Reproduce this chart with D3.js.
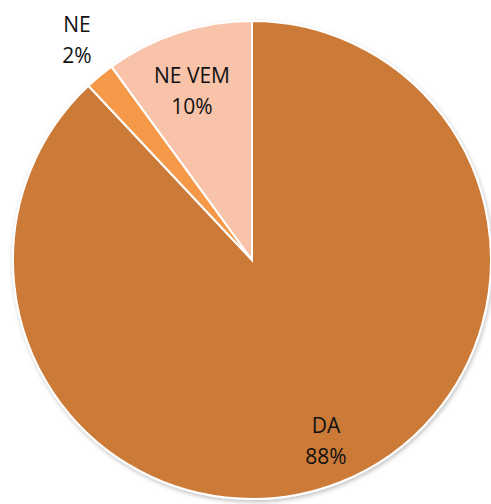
<!DOCTYPE html>
<html>
<head>
<meta charset="utf-8">
<script src="https://cdn.jsdelivr.net/npm/d3@7"></script>
<style>
  body { margin: 0; background: #fff; }
  svg { display: block; }
  text { font-family: "Open Sans", "Noto Sans", sans-serif; font-size: 21px; fill: #111; }
</style>
</head>
<body>
<div id="chart"></div>
<script>
const categories = ["DA", "NE", "NE VEM"];
const values = [88, 2, 10];
const colors = ["#CC7A38", "#F5994A", "#F8C3A9"];

const width = 491, height = 504;
const cx = 252, cy = 260, r = 239;

const svg = d3.select("#chart").append("svg")
  .attr("width", width)
  .attr("height", height);

const defs = svg.append("defs");
const f = defs.append("filter").attr("id", "shadow")
  .attr("x", "-10%").attr("y", "-10%").attr("width", "120%").attr("height", "120%");
f.append("feDropShadow").attr("dx", 1).attr("dy", 2).attr("stdDeviation", 2)
  .attr("flood-color", "#000").attr("flood-opacity", 0.25);

const g = svg.append("g").attr("transform", `translate(${cx},${cy})`);

const pie = d3.pie().sort(null).value(d => d.value);
const arc = d3.arc().innerRadius(0).outerRadius(r);

const data = categories.map((c, i) => ({ name: c, value: values[i], color: colors[i] }));
const arcs = pie(data);

g.append("g").attr("filter", "url(#shadow)")
  .selectAll("path")
  .data(arcs).enter()
  .append("path")
  .attr("d", arc)
  .attr("fill", d => d.data.color)
  .attr("stroke", "#fff")
  .attr("stroke-width", 2);

// label baselines (relative to centre)
const labelPos = {
  "DA": [74, 173],
  "NE": [-175, -228],
  "NE VEM": [-60, -177]
};

const total = d3.sum(values);
const labels = g.selectAll("text.lbl")
  .data(arcs).enter()
  .append("text")
  .attr("class", "lbl")
  .attr("text-anchor", "middle")
  .attr("transform", d => `translate(${labelPos[d.data.name]})`);

labels.append("tspan").attr("x", 0).attr("dy", 0).text(d => d.data.name);
labels.append("tspan").attr("x", 0).attr("dy", 31)
  .text(d => Math.round(d.data.value / total * 100) + "%");
</script>
</body>
</html>
